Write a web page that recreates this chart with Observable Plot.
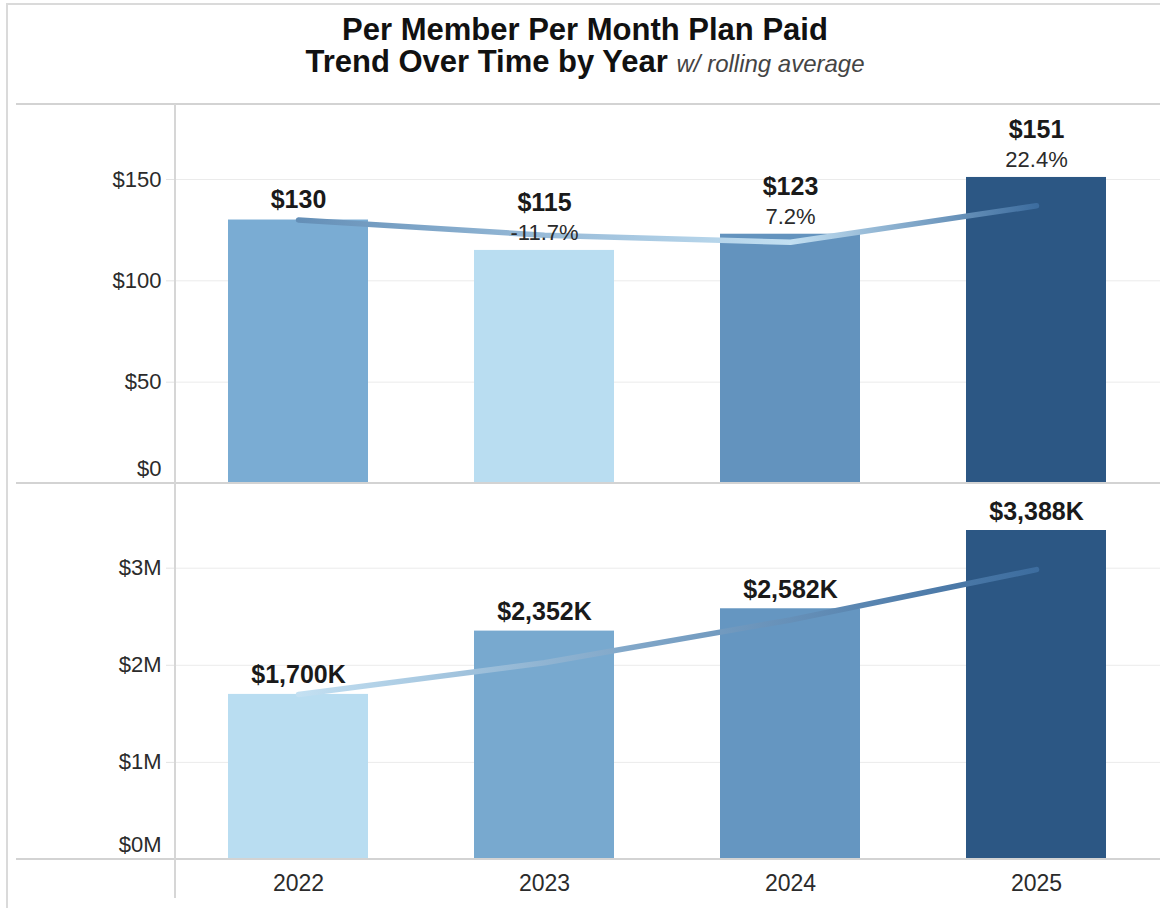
<!DOCTYPE html>
<html><head><meta charset="utf-8">
<script src="https://cdn.jsdelivr.net/npm/d3@7"></script>
<script src="https://cdn.jsdelivr.net/npm/@observablehq/plot@0.6"></script>
<style>
body{margin:0;background:#fff;}
#wrap{position:relative;width:1160px;height:908px;overflow:hidden;background:#fff;font-family:"Liberation Sans",Arial,sans-serif;}
.ln{position:absolute;background:#d3d3d3;}
#title{position:absolute;left:10px;width:1150px;top:14px;text-align:center;font-weight:bold;font-size:31px;line-height:32px;color:#111;}
#title span{font-style:italic;font-weight:normal;font-size:24px;color:#444;}
.panel{position:absolute;left:0;}
</style></head><body>
<div id="wrap">
  <div class="ln" style="left:6px;top:3px;width:2px;height:905px;background:#dadada"></div>
  <div class="ln" style="left:6px;top:3px;width:1154px;height:2px;background:#dadada"></div>
  <div id="title">Per Member Per Month Plan Paid<br>Trend Over Time by Year <span>w/ rolling average</span></div>
  <div id="top" class="panel" style="top:104px"></div>
  <div id="bot" class="panel" style="top:483px"></div>
  <div class="ln" style="left:16px;top:103px;width:1144px;height:2px"></div>
  <div class="ln" style="left:16px;top:482px;width:1144px;height:2px"></div>
  <div class="ln" style="left:16px;top:858px;width:1144px;height:2px"></div>
  <div class="ln" style="left:174px;top:104px;width:2px;height:794px;background:#d6d6d6"></div>
</div>
<script>
// ---- data ----
const years = ["2022", "2023", "2024", "2025"];
const pmpm = [130, 115, 123, 151];            // Per member per month plan paid ($)
const pmpmChange = [null, -11.7, 7.2, 22.4];  // year-over-year change (%)
const paidK = [1700, 2352, 2582, 3388];       // total plan paid ($K)
const pmpmTicks = [0, 50, 100, 150];
const paidTicks = [0, 1000000, 2000000, 3000000];

// ---- styles ----
const topPalette = ["#7aacd3", "#b9ddf1", "#6393be", "#2c5784"];
const botPalette = ["#b9ddf1", "#78a9cf", "#6596c1", "#2c5784"];
const font = '"Liberation Sans", Arial, sans-serif';

// rolling average (2-year window)
const rolling = arr => arr.map((v, i) => d3.mean(arr.slice(Math.max(0, i - 1), i + 1)));

function addGradient(svg, id, values) {
  const xs = svg.scale("x");
  const pos = years.map(y => xs.apply(y));
  const x0 = pos[0], x1 = pos[pos.length - 1];
  const t = d3.scalePow().exponent(0.7).domain(d3.extent(values)).range([0, 1]);
  const ramp = d3.interpolateRgb("#c3e0f2", "#3d6d9f");
  const defs = d3.select(svg).insert("defs", ":first-child");
  const g = defs.append("linearGradient").attr("id", id)
    .attr("x1", 0).attr("x2", 1).attr("y1", 0).attr("y2", 0);
  const [lo] = d3.extent(values);
  const span = d3.max(values) - lo;
  values.forEach((v, i) => g.append("stop")
    .attr("offset", (pos[i] - x0) / (x1 - x0))
    .attr("stop-color", ramp(Math.pow((v - lo) / span, 0.7))));
  d3.select(svg).selectAll('g[aria-label="line"] path').attr("stroke", `url(#${id})`);
}

// ---- top panel: PMPM ----
const topData = years.map((y, i) => ({year: y, value: pmpm[i], pct: pmpmChange[i], roll: rolling(pmpm)[i]}));
const topSvg = Plot.plot({
  width: 1160, height: 380,
  marginLeft: 175, marginRight: 0, marginTop: 0, marginBottom: 1,
  style: {fontFamily: font, fontSize: "22px", color: "#333", overflow: "visible", background: "transparent"},
  x: {domain: years, paddingInner: 0.43, paddingOuter: 0.215, axis: null},
  y: {domain: [0, 187]},
  color: {type: "ordinal", domain: years, range: topPalette},
  marks: [
    Plot.gridY(pmpmTicks.filter(d => d > 0), {stroke: "#ebebeb", strokeOpacity: 1}),
    Plot.axisY(pmpmTicks.filter(d => d > 0), {tickSize: 9, tickPadding: 5, stroke: "#e3e3e3", fill: "#2b2b2b", fontSize: 22, tickFormat: d => "$" + d, label: null}),
    Plot.axisY([0], {tickSize: 0, tickPadding: 14, dy: -15, fill: "#2b2b2b", fontSize: 22, tickFormat: d => "$" + d, label: null}),
    Plot.barY(topData, {x: "year", y: "value", fill: "year"}),
    Plot.line(topData, {x: "year", y: "roll", stroke: "#6a9ccc", strokeWidth: 5.5, curve: "linear"}),
    Plot.text(topData, {filter: d => d.pct == null, x: "year", y: "value", text: d => "$" + d.value, dy: -12, lineAnchor: "bottom", fontSize: 25, fontWeight: "bold", fill: "#1a1a1a"}),
    Plot.text(topData, {filter: d => d.pct != null, x: "year", y: "value", text: d => "$" + d.value, dy: -39, lineAnchor: "bottom", fontSize: 25, fontWeight: "bold", fill: "#1a1a1a"}),
    Plot.text(topData, {filter: d => d.pct != null, x: "year", y: "value", text: d => d.pct == null ? "" : d.pct.toFixed(1) + "%", dy: -10, lineAnchor: "bottom", fontSize: 22, fill: "#2b2b2b"})
  ]
});
document.getElementById("top").appendChild(topSvg);
addGradient(topSvg, "gradTop", topData.map(d => d.roll));

// ---- bottom panel: total plan paid ----
const botData = years.map((y, i) => ({year: y, value: paidK[i] * 1000, k: paidK[i], roll: rolling(paidK)[i] * 1000}));
const botSvg = Plot.plot({
  width: 1160, height: 425,
  marginLeft: 175, marginRight: 0, marginTop: 0, marginBottom: 49,
  style: {fontFamily: font, fontSize: "22px", color: "#333", overflow: "visible", background: "transparent"},
  x: {domain: years, paddingInner: 0.43, paddingOuter: 0.215},
  y: {domain: [0, 3872000]},
  color: {type: "ordinal", domain: years, range: botPalette},
  marks: [
    Plot.gridY(paidTicks.filter(d => d > 0), {stroke: "#ebebeb", strokeOpacity: 1}),
    Plot.axisY(paidTicks.filter(d => d > 0), {tickSize: 9, tickPadding: 5, stroke: "#e3e3e3", fill: "#2b2b2b", fontSize: 22, tickFormat: d => "$" + d / 1e6 + "M", label: null}),
    Plot.axisY([0], {tickSize: 0, tickPadding: 14, dy: -15, fill: "#2b2b2b", fontSize: 22, tickFormat: d => "$" + d / 1e6 + "M", label: null}),
    Plot.axisX({tickSize: 0, tickPadding: 15, fill: "#2b2b2b", fontSize: 23, label: null}),
    Plot.barY(botData, {x: "year", y: "value", fill: "year"}),
    Plot.line(botData, {x: "year", y: "roll", stroke: "#6a9ccc", strokeWidth: 5.5, curve: "linear"}),
    Plot.text(botData, {x: "year", y: "value", text: d => "$" + d3.format(",")(d.k) + "K", dy: -11, lineAnchor: "bottom", fontSize: 25, fontWeight: "bold", fill: "#1a1a1a"})
  ]
});
document.getElementById("bot").appendChild(botSvg);
addGradient(botSvg, "gradBot", botData.map(d => d.roll));
</script>
</body></html>
